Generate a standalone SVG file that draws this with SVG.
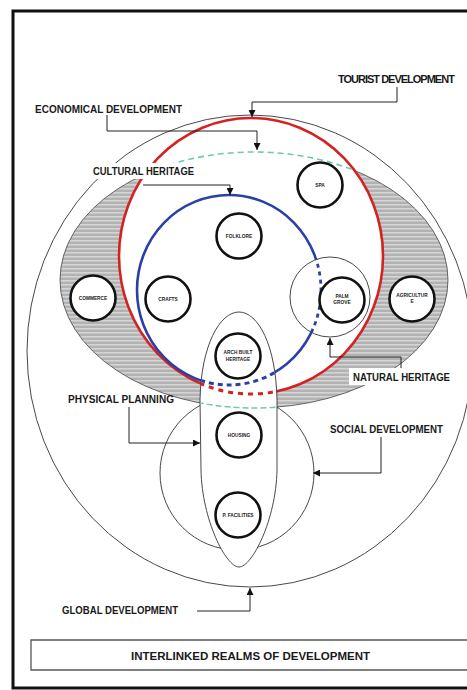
<svg xmlns="http://www.w3.org/2000/svg" width="467" height="690" viewBox="0 0 467 690">
<style>
.thin{fill:none;stroke:#333;stroke-width:0.9}
.node{fill:#fff;stroke:#111;stroke-width:2.6}
.nt{font-family:"Liberation Sans",Arial,sans-serif;font-weight:bold;font-size:4.8px;fill:#222;text-anchor:middle}
.lbl{font-family:"Liberation Sans",Arial,sans-serif;font-weight:bold;font-size:11px;fill:#1a1a1a}
.conn{fill:none;stroke:#222;stroke-width:1}
</style>
<defs>
<pattern id="stripes" width="8" height="4" patternUnits="userSpaceOnUse">
<rect width="8" height="4" fill="#b2b2b2"/>
<rect y="0" width="8" height="1.6" fill="#d4d4d4"/>
</pattern>
<marker id="arr" viewBox="0 0 10 10" refX="10" refY="5" markerWidth="7" markerHeight="7" orient="auto" markerUnits="userSpaceOnUse">
<path d="M0,0 L10,5 L0,10 Z" fill="#111"/>
</marker>
<path id="tongueShape" d="M239,312 C258,312 276,345 277,400 L277,470 C276,520 252,567 239,567 C226,567 202,520 201,470 L200,400 C201,345 220,312 239,312 Z"/>
<clipPath id="clipTongue"><use href="#tongueShape"/></clipPath>
<clipPath id="clipRed"><ellipse cx="251" cy="256" rx="131" ry="137"/></clipPath>
<clipPath id="clipPalm"><circle cx="330" cy="297" r="40"/></clipPath>
</defs>

<!-- frame -->
<path d="M467,11 H13 V688 H467" fill="none" stroke="#111" stroke-width="3"/>
<path d="M467,640 H31 V670 H467" fill="none" stroke="#555" stroke-width="1.3"/>

<g id="global-development">
<ellipse cx="250" cy="351" rx="223" ry="236" fill="#fff" stroke="#333" stroke-width="0.9"/>
</g>
<g id="social-development">
<circle cx="237" cy="473" r="77" class="thin"/>
</g>
<g id="economical-development">
<ellipse cx="254" cy="280" rx="194" ry="128" fill="url(#stripes)" stroke="#555" stroke-width="0.9"/>
</g>
<g id="tourist-development">
<ellipse cx="251" cy="256" rx="132" ry="138" fill="#fff" stroke="#d42222" stroke-width="2.6"/>
</g>
<g id="economical-boundary">
<ellipse cx="254" cy="280" rx="194" ry="128" fill="none" stroke="#6cc7b4" stroke-width="1.6" stroke-dasharray="6 4" clip-path="url(#clipRed)"/>
</g>
<g id="cultural-heritage">
<ellipse cx="229" cy="290" rx="92" ry="95" fill="none" stroke="#2b40a6" stroke-width="2.6"/>
</g>
<g id="natural-heritage">
<circle cx="330" cy="297" r="40" fill="#fff" stroke="#333" stroke-width="0.9"/>
<ellipse cx="229" cy="290" rx="92" ry="95" fill="none" stroke="#2b40a6" stroke-width="2.8" stroke-dasharray="4 4" clip-path="url(#clipPalm)"/>
</g>
<g id="physical-planning">
<use href="#tongueShape" fill="#fff" stroke="#333" stroke-width="0.9"/>
<g clip-path="url(#clipTongue)">
<ellipse cx="229" cy="290" rx="92" ry="95" fill="none" stroke="#2b40a6" stroke-width="3" stroke-dasharray="5 4"/>
<ellipse cx="251" cy="256" rx="132" ry="138" fill="none" stroke="#d42222" stroke-width="3" stroke-dasharray="5 5"/>
<ellipse cx="254" cy="280" rx="194" ry="128" fill="none" stroke="#6cc7b4" stroke-width="1.4" stroke-dasharray="6 3"/>
</g>
</g>

<g id="spa"><circle cx="320" cy="185" r="22.5" class="node"/><text x="320" y="187" class="nt">SPA</text></g>
<g id="folklore"><circle cx="239" cy="236" r="22.5" class="node"/><text x="239" y="238" class="nt">FOLKLORE</text></g>
<g id="commerce"><circle cx="93" cy="298" r="22.5" class="node"/><text x="93" y="300" class="nt">COMMERCE</text></g>
<g id="crafts"><circle cx="168" cy="299" r="22.5" class="node"/><text x="168" y="301" class="nt">CRAFTS</text></g>
<g id="palm-grove"><circle cx="342" cy="300" r="22.5" class="node"/><text x="342" y="298" class="nt">PALM</text><text x="342" y="304" class="nt">GROVE</text></g>
<g id="agriculture"><circle cx="412" cy="299" r="22.5" class="node"/><text x="412" y="297" class="nt">AGRICULTUR</text><text x="412" y="303" class="nt">E</text></g>
<g id="arch-built-heritage"><circle cx="238" cy="356" r="22.5" class="node"/><text x="238" y="354" class="nt">ARCH BUILT</text><text x="238" y="361" class="nt">HERITAGE</text></g>
<g id="housing"><circle cx="239" cy="435" r="22.5" class="node"/><text x="239" y="437" class="nt">HOUSING</text></g>
<g id="p-facilities"><circle cx="238" cy="515" r="22.5" class="node"/><text x="238" y="517" class="nt">P. FACILITIES</text></g>

<g id="connectors">
<path d="M397,87 V102 H252 V117" class="conn" marker-end="url(#arr)"/>
<path d="M107,115 V131 H257 V150" class="conn" marker-end="url(#arr)"/>
<path d="M143,185 H230 V195" class="conn" marker-end="url(#arr)"/>
<path d="M401,368 V357 H330 V338" class="conn" marker-end="url(#arr)"/>
<path d="M129,407 V443 H200" class="conn" marker-end="url(#arr)"/>
<path d="M381,437 V473 H313" class="conn" marker-end="url(#arr)"/>
<path d="M197,611 H250 V588" class="conn" marker-end="url(#arr)"/>
</g>

<g id="labels">
<text x="338" y="83" class="lbl" font-size="10.5" letter-spacing="-1">TOURIST DEVELOPMENT</text>
<text x="35" y="113" class="lbl" textLength="147" lengthAdjust="spacingAndGlyphs">ECONOMICAL DEVELOPMENT</text>
<rect x="90" y="163" width="106" height="16" fill="#fff"/>
<text x="93" y="175" class="lbl" textLength="101" lengthAdjust="spacingAndGlyphs">CULTURAL HERITAGE</text>
<rect x="349" y="368" width="102" height="17" fill="#fff"/>
<text x="353" y="381" class="lbl" textLength="97" lengthAdjust="spacingAndGlyphs">NATURAL HERITAGE</text>
<text x="68" y="403" class="lbl" textLength="106" lengthAdjust="spacingAndGlyphs">PHYSICAL PLANNING</text>
<text x="330" y="433" class="lbl" textLength="113" lengthAdjust="spacingAndGlyphs">SOCIAL DEVELOPMENT</text>
<text x="62" y="614" class="lbl" textLength="116" lengthAdjust="spacingAndGlyphs">GLOBAL DEVELOPMENT</text>
<text x="131" y="660" class="lbl" font-size="12.5" textLength="239" lengthAdjust="spacingAndGlyphs">INTERLINKED REALMS OF DEVELOPMENT</text>
</g>
</svg>
